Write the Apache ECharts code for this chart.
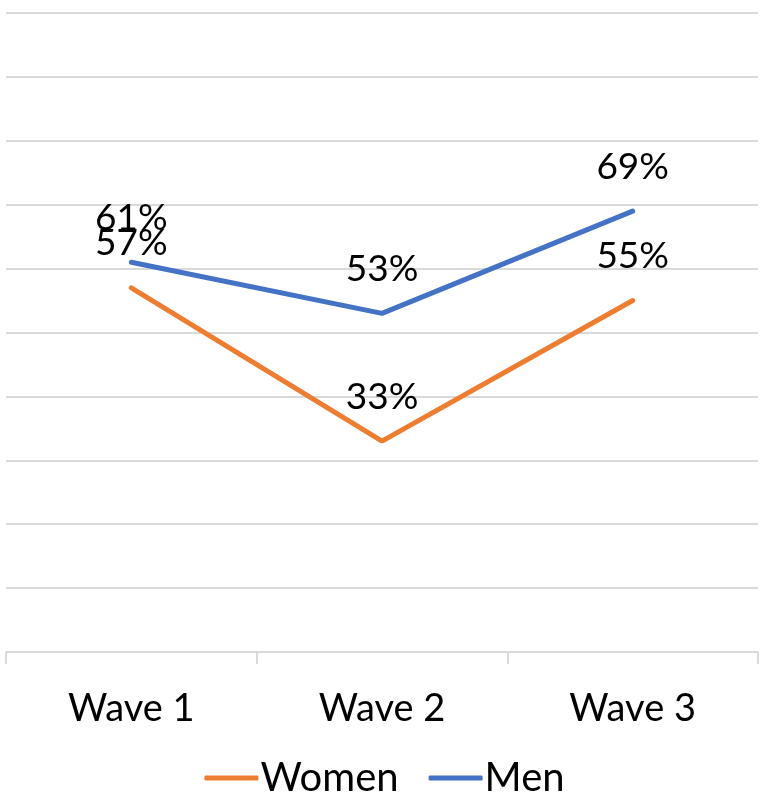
<!DOCTYPE html>
<html>
<head>
<meta charset="utf-8">
<script src="https://cdn.jsdelivr.net/npm/echarts@6/dist/echarts.min.js"></script>
<style>
  html, body { margin: 0; padding: 0; background: #fff; }
  #main { width: 769px; height: 808px; }
</style>
</head>
<body>
<div id="main"></div>
<script>
  const categories = ['Wave 1', 'Wave 2', 'Wave 3'];
  const women = [57, 33, 55];
  const men = [61, 53, 69];

  const fontFamily = 'Lato, "Open Sans", sans-serif';

  const chart = echarts.init(document.getElementById('main'));

  function lineSeries(name, data, color) {
    return {
      name: name,
      type: 'line',
      data: data,
      symbol: 'circle',
      symbolSize: 0,
      showSymbol: true,
      itemStyle: { color: color },
      lineStyle: { color: color, width: 5, cap: 'round' },
      label: {
        show: true,
        position: 'top',
        distance: 26,
        formatter: '{c}%',
        color: '#000',
        fontSize: 37,
        fontFamily: fontFamily,
      },
      emphasis: { disabled: true },
    };
  }

  chart.setOption({
    animation: false,
    grid: { left: 6, right: 11, top: 13, bottom: 156 },
    legend: {
      data: ['Women', 'Men'],
      bottom: 5,
      left: 'center',
      icon: 'roundRect',
      itemWidth: 54,
      itemHeight: 5,
      itemGap: 30,
      textStyle: { fontSize: 40, fontFamily: fontFamily, color: '#000', padding: [0, 0, 0, -3] },
    },
    xAxis: {
      type: 'category',
      data: categories,
      boundaryGap: true,
      axisLine: { lineStyle: { color: '#d9d9d9', width: 2 } },
      axisTick: { show: true, length: 12, lineStyle: { color: '#d9d9d9', width: 2 } },
      axisLabel: { margin: 38, fontSize: 38, fontFamily: fontFamily, color: '#000' },
    },
    yAxis: {
      type: 'value',
      min: 0,
      max: 100,
      interval: 10,
      axisLabel: { show: false },
      axisLine: { show: false },
      axisTick: { show: false },
      splitLine: { lineStyle: { color: '#d9d9d9', width: 2 } },
    },
    series: [
      lineSeries('Women', women, '#ED7D31'),
      lineSeries('Men', men, '#4472C4'),
    ],
  });
</script>
</body>
</html>
